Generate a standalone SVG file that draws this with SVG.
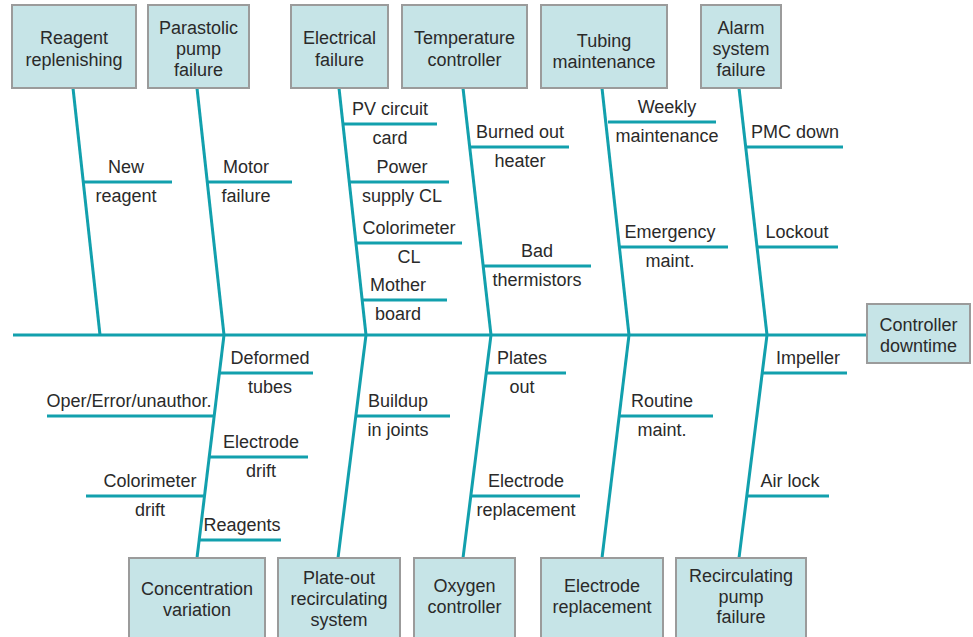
<svg xmlns="http://www.w3.org/2000/svg" width="973" height="637" viewBox="0 0 973 637">
<style>
.box{fill:#c6e4e7;stroke:#9b9b9b;stroke-width:2}
.t{font-family:"Liberation Sans",Arial,sans-serif;font-size:18px;fill:#2a2a2a;text-anchor:middle}
.ln{stroke:#12a0ad;stroke-width:3;fill:none;stroke-linecap:butt}
</style>
<rect width="973" height="637" fill="#ffffff"/>
<g id="connectors">
<line class="ln" x1="13" y1="335" x2="867" y2="335"/>
<line class="ln" x1="73" y1="88" x2="100" y2="335"/>
<line class="ln" x1="197" y1="88" x2="224" y2="335"/>
<line class="ln" x1="339" y1="88" x2="366" y2="335"/>
<line class="ln" x1="463" y1="88" x2="491" y2="335"/>
<line class="ln" x1="602" y1="88" x2="629" y2="335"/>
<line class="ln" x1="739" y1="88" x2="767" y2="335"/>
<line class="ln" x1="224" y1="335" x2="197" y2="558"/>
<line class="ln" x1="366" y1="335" x2="338" y2="558"/>
<line class="ln" x1="491" y1="335" x2="463" y2="558"/>
<line class="ln" x1="629" y1="335" x2="602" y2="558"/>
<line class="ln" x1="767" y1="335" x2="739" y2="558"/>
<line class="ln" x1="84" y1="182" x2="172" y2="182"/>
<line class="ln" x1="208" y1="182" x2="292" y2="182"/>
<line class="ln" x1="343" y1="124" x2="437" y2="124"/>
<line class="ln" x1="350" y1="182" x2="449" y2="182"/>
<line class="ln" x1="356" y1="243" x2="462" y2="243"/>
<line class="ln" x1="362" y1="300" x2="447" y2="300"/>
<line class="ln" x1="471" y1="147" x2="569" y2="147"/>
<line class="ln" x1="483" y1="266" x2="591" y2="266"/>
<line class="ln" x1="608" y1="122" x2="716" y2="122"/>
<line class="ln" x1="620" y1="247" x2="728" y2="247"/>
<line class="ln" x1="746" y1="147" x2="843" y2="147"/>
<line class="ln" x1="757" y1="247" x2="838" y2="247"/>
<line class="ln" x1="219" y1="373" x2="313" y2="373"/>
<line class="ln" x1="47" y1="416" x2="214" y2="416"/>
<line class="ln" x1="209" y1="457" x2="308" y2="457"/>
<line class="ln" x1="86" y1="496" x2="205" y2="496"/>
<line class="ln" x1="199" y1="540" x2="281" y2="540"/>
<line class="ln" x1="355" y1="416" x2="450" y2="416"/>
<line class="ln" x1="486" y1="373" x2="566" y2="373"/>
<line class="ln" x1="472" y1="496" x2="580" y2="496"/>
<line class="ln" x1="619" y1="416" x2="713" y2="416"/>
<line class="ln" x1="762" y1="373" x2="847" y2="373"/>
<line class="ln" x1="746" y1="496" x2="829" y2="496"/>
</g>
<g id="labels">
<text class="t" x="126" y="173">New</text><text class="t" x="126" y="202">reagent</text>
<text class="t" x="246" y="173">Motor</text><text class="t" x="246" y="202">failure</text>
<text class="t" x="390" y="115">PV circuit</text><text class="t" x="390" y="144">card</text>
<text class="t" x="402" y="173">Power</text><text class="t" x="402" y="202">supply CL</text>
<text class="t" x="409" y="234">Colorimeter</text><text class="t" x="409" y="263">CL</text>
<text class="t" x="398" y="291">Mother</text><text class="t" x="398" y="320">board</text>
<text class="t" x="520" y="138">Burned out</text><text class="t" x="520" y="167">heater</text>
<text class="t" x="537" y="257">Bad</text><text class="t" x="537" y="286">thermistors</text>
<text class="t" x="667" y="113">Weekly</text><text class="t" x="667" y="142">maintenance</text>
<text class="t" x="670" y="238">Emergency</text><text class="t" x="670" y="267">maint.</text>
<text class="t" x="795" y="138">PMC down</text>
<text class="t" x="797" y="238">Lockout</text>
<text class="t" x="270" y="364">Deformed</text><text class="t" x="270" y="393">tubes</text>
<text class="t" x="129" y="407">Oper/Error/unauthor.</text>
<text class="t" x="261" y="448">Electrode</text><text class="t" x="261" y="477">drift</text>
<text class="t" x="150" y="487">Colorimeter</text><text class="t" x="150" y="516">drift</text>
<text class="t" x="242" y="531">Reagents</text>
<text class="t" x="398" y="407">Buildup</text><text class="t" x="398" y="436">in joints</text>
<text class="t" x="522" y="364">Plates</text><text class="t" x="522" y="393">out</text>
<text class="t" x="526" y="487">Electrode</text><text class="t" x="526" y="516">replacement</text>
<text class="t" x="662" y="407">Routine</text><text class="t" x="662" y="436">maint.</text>
<text class="t" x="808" y="364">Impeller</text>
<text class="t" x="790" y="487">Air lock</text>
</g>
<g id="reagent-replenishing"><rect class="box" x="12" y="5" width="124" height="83"/><text class="t" x="74" y="44">Reagent</text><text class="t" x="74" y="66">replenishing</text></g>
<g id="parastolic-pump-failure"><rect class="box" x="148" y="5" width="101" height="83"/><text class="t" x="198.5" y="34">Parastolic</text><text class="t" x="198.5" y="55">pump</text><text class="t" x="198.5" y="76">failure</text></g>
<g id="electrical-failure"><rect class="box" x="291" y="5" width="97" height="83"/><text class="t" x="339.5" y="44">Electrical</text><text class="t" x="339.5" y="66">failure</text></g>
<g id="temperature-controller"><rect class="box" x="402" y="5" width="125" height="83"/><text class="t" x="464.5" y="44">Temperature</text><text class="t" x="464.5" y="66">controller</text></g>
<g id="tubing-maintenance"><rect class="box" x="541" y="5" width="126" height="83"/><text class="t" x="604" y="47">Tubing</text><text class="t" x="604" y="68">maintenance</text></g>
<g id="alarm-system-failure"><rect class="box" x="701" y="5" width="80" height="83"/><text class="t" x="741" y="34">Alarm</text><text class="t" x="741" y="55">system</text><text class="t" x="741" y="76">failure</text></g>
<g id="controller-downtime"><rect class="box" x="867" y="304" width="103" height="59"/><text class="t" x="918.5" y="331">Controller</text><text class="t" x="918.5" y="352">downtime</text></g>
<g id="concentration-variation"><rect class="box" x="129" y="558" width="136" height="90"/><text class="t" x="197" y="595">Concentration</text><text class="t" x="197" y="616">variation</text></g>
<g id="plate-out-recirculating-system"><rect class="box" x="278" y="558" width="122" height="90"/><text class="t" x="339" y="584">Plate-out</text><text class="t" x="339" y="605">recirculating</text><text class="t" x="339" y="626">system</text></g>
<g id="oxygen-controller"><rect class="box" x="414" y="558" width="101" height="90"/><text class="t" x="464.5" y="592">Oxygen</text><text class="t" x="464.5" y="613">controller</text></g>
<g id="electrode-replacement"><rect class="box" x="541" y="558" width="122" height="90"/><text class="t" x="602" y="592">Electrode</text><text class="t" x="602" y="613">replacement</text></g>
<g id="recirculating-pump-failure"><rect class="box" x="676" y="558" width="130" height="90"/><text class="t" x="741" y="582">Recirculating</text><text class="t" x="741" y="603">pump</text><text class="t" x="741" y="623">failure</text></g>
</svg>
